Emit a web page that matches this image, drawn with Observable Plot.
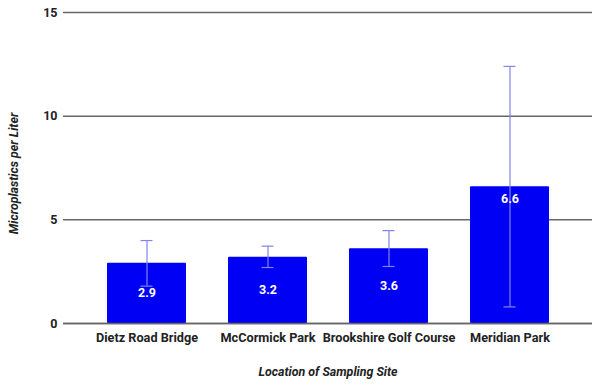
<!DOCTYPE html>
<html><head><meta charset="utf-8">
<script src="https://cdn.jsdelivr.net/npm/d3@7"></script>
<script src="https://cdn.jsdelivr.net/npm/@observablehq/plot@0.6"></script>
<style>body{margin:0;background:#fff;font-family:Roboto,sans-serif}</style>
</head><body><div id="chart"></div>
<script>
const sites = ["Dietz Road Bridge", "McCormick Park", "Brookshire Golf Course", "Meridian Park"];
const means = [2.9, 3.2, 3.6, 6.6];
const lows = [1.8, 2.7, 2.75, 0.8];
const highs = [4.0, 3.73, 4.48, 12.4];
const yTicks = [0, 5, 10, 15];

const data = sites.map((s, i) => ({
  site: s, mean: means[i], low: lows[i], high: highs[i],
  labelY: lows[i] > means[i] / 2 ? means[i] / 2 : means[i] - 0.6
}));

const bar = "#0000f5", err = "#8383ea", grid = "#666";
const chart = Plot.plot({
  width: 600, height: 387,
  marginTop: 12, marginBottom: 64, marginLeft: 63, marginRight: 8,
  style: {fontFamily: "Roboto, sans-serif", fontSize: "12px", color: "#222", background: "#fff"},
  x: {domain: sites, padding: 0.35, label: null},
  y: {domain: [0, 15], label: null},
  marks: [
    Plot.gridY(yTicks, {stroke: grid, strokeOpacity: 1, strokeWidth: 1.5}),
    Plot.barY(data, {x: "site", y: "mean", fill: bar, rx: 1}),
    Plot.ruleY([0], {stroke: grid, strokeWidth: 1.5}),
    Plot.ruleX(data, {x: "site", y1: "low", y2: "high", stroke: err, strokeWidth: 1.2}),
    Plot.tickY(data, {x: "site", y: "low", stroke: err, strokeWidth: 1.2, inset: 33.5}),
    Plot.tickY(data, {x: "site", y: "high", stroke: err, strokeWidth: 1.2, inset: 33.5}),
    Plot.text(data, {x: "site", y: "labelY", text: d => d.mean.toFixed(1), fill: "white", fontWeight: "bold", fontSize: 12.5, lineAnchor: "middle"}),
    Plot.axisY({ticks: yTicks, tickSize: 0, tickPadding: 6, fontWeight: "bold", fontSize: 12.5, fill: "#222", label: null}),
    Plot.axisX({tickSize: 0, tickPadding: 9, fontWeight: "bold", fontSize: 12.7, fill: "#222", label: null}),
    Plot.text(["Location of Sampling Site"], {frameAnchor: "bottom", textAnchor: "middle", lineAnchor: "middle", dy: 49, fontWeight: "bold", fontStyle: "italic", fontSize: 12.4, fill: "#222"}),
    Plot.text(["Microplastics per Liter"], {frameAnchor: "left", textAnchor: "middle", lineAnchor: "middle", dx: -49, dy: 5.5, rotate: -90, fontWeight: "bold", fontStyle: "italic", fontSize: 12.4, fill: "#222"})
  ]
});
document.getElementById("chart").append(chart);
</script>
</body></html>
